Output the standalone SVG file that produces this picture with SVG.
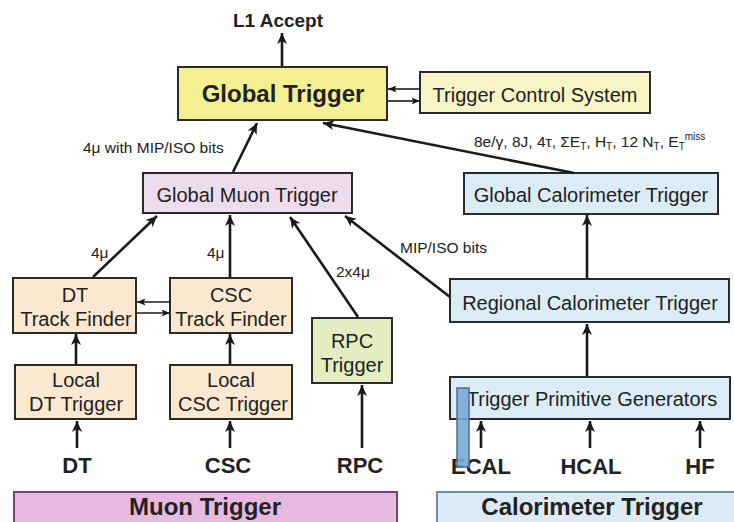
<svg xmlns="http://www.w3.org/2000/svg" width="734" height="522" viewBox="0 0 734 522">
<defs>
<marker id="ah" markerUnits="userSpaceOnUse" markerWidth="12" markerHeight="12" viewBox="0 0 12 12" refX="11" refY="6" orient="auto">
<path d="M0,1 L11,6 L0,11 L3,6 Z" fill="#1a1a1a"/>
</marker>
<marker id="ahs" markerUnits="userSpaceOnUse" markerWidth="9" markerHeight="9" viewBox="0 0 9 9" refX="8.5" refY="4.5" orient="auto">
<path d="M0,1 L8.5,4.5 L0,8 L2,4.5 Z" fill="#1a1a1a"/>
</marker>
</defs>
<style>
.box{stroke:#2a2a2a;stroke-width:2}
.t{font-family:"Liberation Sans",Arial,sans-serif;fill:#222;text-anchor:middle}
.n{font-size:20px}
.b{font-weight:bold}
.lab{font-family:"Liberation Sans",Arial,sans-serif;fill:#222;font-size:15.5px}
.c{stroke:#1a1a1a;stroke-width:2.6;fill:none;marker-end:url(#ah)}
.cs{stroke:#1a1a1a;stroke-width:1.6;fill:none;marker-end:url(#ahs)}
</style>
<rect width="734" height="522" fill="#ffffff"/>

<g id="l1accept"><text class="t b" x="278" y="27" font-size="19">L1 Accept</text></g>

<g id="global-trigger">
<rect class="box" x="178" y="67" width="209" height="53" fill="#f4ef90"/>
<text class="t b" x="283" y="102" font-size="24">Global Trigger</text>
</g>

<g id="trigger-control-system">
<rect class="box" x="420" y="72" width="230" height="41" fill="#f8f4c6"/>
<text class="t n" x="535" y="102">Trigger Control System</text>
</g>

<g id="global-muon-trigger">
<rect class="box" x="143" y="173" width="209" height="40" fill="#eddcee"/>
<text class="t n" x="247" y="202">Global Muon Trigger</text>
</g>

<g id="global-calorimeter-trigger">
<rect class="box" x="464" y="173" width="254" height="41" fill="#dcecf6"/>
<text class="t n" x="591" y="202">Global Calorimeter Trigger</text>
</g>

<g id="regional-calorimeter-trigger">
<rect class="box" x="450" y="279" width="279" height="43" fill="#dcecf6"/>
<text class="t n" x="590" y="310">Regional Calorimeter Trigger</text>
</g>

<g id="dt-track-finder">
<rect class="box" x="13" y="278" width="123" height="55" fill="#fbe8d0"/>
<text class="t n" x="75" y="302">DT</text>
<text class="t n" x="76" y="326">Track Finder</text>
</g>

<g id="csc-track-finder">
<rect class="box" x="170" y="278" width="122" height="55" fill="#fbe8d0"/>
<text class="t n" x="231" y="302">CSC</text>
<text class="t n" x="231" y="326">Track Finder</text>
</g>

<g id="rpc-trigger">
<rect class="box" x="312" y="318" width="80" height="65" fill="#e4edc2"/>
<text class="t n" x="352" y="348">RPC</text>
<text class="t n" x="352" y="372">Trigger</text>
</g>

<g id="local-dt-trigger">
<rect class="box" x="15" y="365" width="121" height="54" fill="#fbe8d0"/>
<text class="t n" x="76" y="387">Local</text>
<text class="t n" x="76" y="411">DT Trigger</text>
</g>

<g id="local-csc-trigger">
<rect class="box" x="170" y="365" width="122" height="54" fill="#fbe8d0"/>
<text class="t n" x="231" y="387">Local</text>
<text class="t n" x="233" y="411">CSC Trigger</text>
</g>

<g id="trigger-primitive-generators">
<rect class="box" x="450" y="377" width="280" height="42" fill="#dcecf6"/>
<text class="t n" x="592" y="406">Trigger Primitive Generators</text>
</g>

<g id="sources">
<text class="t b" x="77" y="473" font-size="22">DT</text>
<text class="t b" x="228" y="473" font-size="22">CSC</text>
<text class="t b" x="360" y="473" font-size="22">RPC</text>
<text class="t b" x="481" y="474" font-size="22">ECAL</text>
<text class="t b" x="591" y="474" font-size="22">HCAL</text>
<text class="t b" x="700" y="474" font-size="22">HF</text>
</g>

<g id="muon-trigger-band">
<rect x="14" y="492" width="383" height="36" fill="#e8b9e0" stroke="#7b3f7b" stroke-width="2"/>
<text class="t b" x="205" y="515" font-size="24">Muon Trigger</text>
</g>

<g id="calorimeter-trigger-band">
<rect x="437" y="492" width="300" height="36" fill="#dbeaf5" stroke="#6d8ca8" stroke-width="2"/>
<text class="t b" x="592" y="515" font-size="24">Calorimeter Trigger</text>
</g>

<g id="connectors">
<line class="c" x1="282" y1="66" x2="282" y2="33"/>
<line class="cs" x1="420" y1="89" x2="388" y2="89"/>
<line class="cs" x1="388" y1="101" x2="420" y2="101"/>
<line class="c" x1="233" y1="172" x2="257" y2="123"/>
<line class="c" x1="574" y1="173" x2="323" y2="123"/>
<line class="c" x1="587" y1="278" x2="587" y2="215"/>
<line class="c" x1="450" y1="297" x2="345" y2="216"/>
<line class="c" x1="93" y1="277" x2="157" y2="216"/>
<line class="c" x1="230" y1="277" x2="230" y2="215"/>
<line class="c" x1="358" y1="317" x2="290" y2="217"/>
<line class="cs" x1="170" y1="302" x2="137" y2="302"/>
<line class="cs" x1="137" y1="313" x2="170" y2="313"/>
<line class="c" x1="76" y1="364" x2="76" y2="334"/>
<line class="c" x1="230" y1="364" x2="230" y2="334"/>
<line class="c" x1="77" y1="448" x2="77" y2="421"/>
<line class="c" x1="230" y1="448" x2="230" y2="421"/>
<line class="c" x1="362" y1="448" x2="362" y2="385"/>
<line class="c" x1="587" y1="376" x2="587" y2="324"/>
<line class="c" x1="481" y1="448" x2="481" y2="421"/>
<line class="c" x1="590" y1="448" x2="590" y2="421"/>
<line class="c" x1="700" y1="448" x2="700" y2="421"/>
</g>

<g id="connector-labels">
<text class="lab" x="83" y="153">4μ with MIP/ISO bits</text>
<text class="lab" x="474" y="147">8e/γ, 8J, 4τ, ΣE<tspan font-size="10" dy="3">T</tspan><tspan dy="-3">, H</tspan><tspan font-size="10" dy="3">T</tspan><tspan dy="-3">, 12 N</tspan><tspan font-size="10" dy="3">T</tspan><tspan dy="-3">, E</tspan><tspan font-size="10" dy="3">T</tspan><tspan font-size="10" dy="-10">miss</tspan></text>
<text class="lab" x="400" y="253">MIP/ISO bits</text>
<text class="lab" x="91" y="258">4μ</text>
<text class="lab" x="207" y="258">4μ</text>
<text class="lab" x="336" y="277">2x4μ</text>
</g>

<g id="overlay-bar">
<rect x="457" y="388" width="12" height="79" fill="#7aaad4" fill-opacity="0.9" stroke="#48709a" stroke-width="1.5"/>
</g>
</svg>
